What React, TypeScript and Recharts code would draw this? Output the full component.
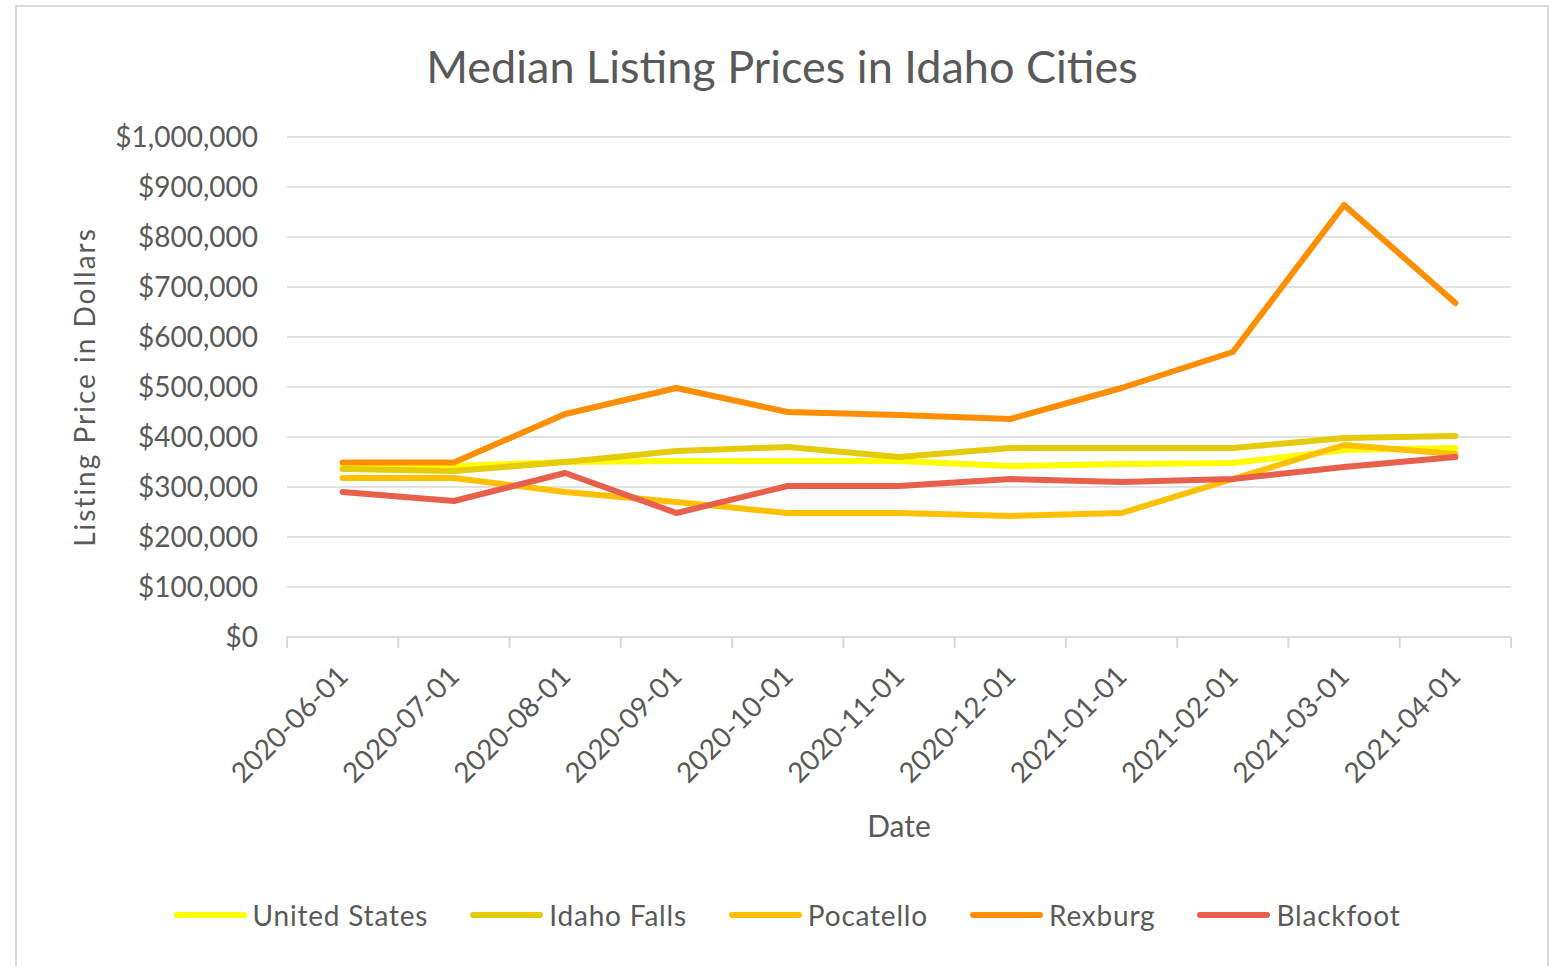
import React from "react";
import {
  CartesianGrid,
  Label,
  Legend,
  Line,
  LineChart,
  XAxis,
  YAxis,
} from "recharts";

const dates = [
  "2020-06-01",
  "2020-07-01",
  "2020-08-01",
  "2020-09-01",
  "2020-10-01",
  "2020-11-01",
  "2020-12-01",
  "2021-01-01",
  "2021-02-01",
  "2021-03-01",
  "2021-04-01",
];

const unitedStates = [340000, 342000, 350000, 352000, 352000, 352000, 342000, 346000, 348000, 374000, 378000];
const idahoFalls = [336000, 332000, 350000, 372000, 380000, 360000, 378000, 378000, 378000, 398000, 402000];
const pocatello = [318000, 318000, 290000, 270000, 248000, 248000, 242000, 248000, 316000, 384000, 366000];
const rexburg = [349000, 349000, 446000, 498000, 450000, 444000, 436000, 498000, 570000, 864000, 668000];
const blackfoot = [290000, 272000, 328000, 248000, 302000, 302000, 316000, 310000, 316000, 340000, 360000];

const yTicks = [0, 100000, 200000, 300000, 400000, 500000, 600000, 700000, 800000, 900000, 1000000];

const series = [
  { key: "United States", values: unitedStates, color: "#FFFF00" },
  { key: "Idaho Falls", values: idahoFalls, color: "#E6CB0A" },
  { key: "Pocatello", values: pocatello, color: "#FFC000" },
  { key: "Rexburg", values: rexburg, color: "#FF8F00" },
  { key: "Blackfoot", values: blackfoot, color: "#E8604C" },
];

const data = dates.map((date, i) => {
  const row: Record<string, any> = { date };
  series.forEach((s) => {
    row[s.key] = s.values[i];
  });
  return row;
});

const FONT = "Lato, 'Open Sans', sans-serif";
const TEXT = "#595959";
const GRID = "#d9d9d9";
const CHART_W = 1530;
const CHART_H = 958;
const MARGIN = { top: 130, right: 36, bottom: 78, left: 0 };
const Y_AXIS_W = 270;
const PLOT_W = CHART_W - MARGIN.left - MARGIN.right - Y_AXIS_W;

function formatDollars(v: number) {
  return "$" + v.toLocaleString("en-US");
}

function DateTick(props: any) {
  const { x, y, payload, index } = props;
  const bw = PLOT_W / dates.length;
  const ax = x + 7;
  const ay = y + 41;
  return (
    <g>
      <line x1={x - bw / 2} y1={y} x2={x - bw / 2} y2={y + 11} stroke={GRID} strokeWidth={2} />
      {index === dates.length - 1 && (
        <line x1={x + bw / 2} y1={y} x2={x + bw / 2} y2={y + 11} stroke={GRID} strokeWidth={2} />
      )}
      <text
        x={ax}
        y={ay}
        textAnchor="end"
        transform={`rotate(-45 ${ax} ${ay})`}
        fill={TEXT}
        fontSize={28}
        fontFamily={FONT}
      >
        {payload.value}
      </text>
    </g>
  );
}

function LegendContent() {
  return (
    <div
      style={{
        display: "flex",
        justifyContent: "center",
        alignItems: "center",
        gap: 42,
        height: 40,
        paddingLeft: 10,
        fontFamily: FONT,
        fontSize: 28,
        letterSpacing: 0.8,
        color: TEXT,
      }}
    >
      {series.map((s) => (
        <div key={s.key} style={{ display: "flex", alignItems: "center" }}>
          <span
            style={{
              display: "inline-block",
              width: 73,
              height: 6,
              borderRadius: 3,
              background: s.color,
              marginRight: 6,
            }}
          />
          <span>{s.key}</span>
        </div>
      ))}
    </div>
  );
}

export default function App() {
  return (
    <div
      style={{
        position: "absolute",
        left: 15,
        top: 5,
        width: CHART_W,
        height: 980,
        border: `2px solid ${GRID}`,
        background: "#fff",
        fontFamily: FONT,
      }}
    >
      <div
        style={{
          position: "absolute",
          left: 0,
          width: CHART_W,
          top: 32,
          textAlign: "center",
          fontSize: 45,
          color: TEXT,
          lineHeight: "54px",
        }}
      >
        Median Listing Prices in Idaho Cities
      </div>
      <LineChart width={CHART_W} height={CHART_H} data={data} margin={MARGIN}>
        <CartesianGrid horizontal vertical={false} stroke={GRID} strokeWidth={1.5} />
        <XAxis
          dataKey="date"
          scale="band"
          height={210}
          axisLine={{ stroke: GRID, strokeWidth: 2 }}
          tickLine={false}
          tickSize={0}
          tickMargin={0}
          interval={0}
          tick={<DateTick />}
        >
          <Label
            content={(p: any) => {
              const vb = p.viewBox || {};
              return (
                <text
                  x={vb.x + vb.width / 2}
                  y={vb.y + 188}
                  textAnchor="middle"
                  dominantBaseline="central"
                  fill={TEXT}
                  fontSize={30}
                  fontFamily={FONT}
                >
                  Date
                </text>
              );
            }}
          />
        </XAxis>
        <YAxis
          width={Y_AXIS_W}
          domain={[0, 1000000]}
          ticks={yTicks}
          axisLine={false}
          tickLine={false}
          tickSize={0}
          tickMargin={29}
          tickFormatter={formatDollars}
          tick={{ fill: TEXT, fontSize: 28, fontFamily: FONT }}
        >
          <Label
            content={(p: any) => {
              const vb = p.viewBox || {};
              const cx = vb.x + 67;
              const cy = vb.y + vb.height / 2;
              return (
                <text
                  x={cx}
                  y={cy}
                  textAnchor="middle"
                  dominantBaseline="central"
                  transform={`rotate(-90 ${cx} ${cy})`}
                  fill={TEXT}
                  fontSize={28}
                  letterSpacing={2}
                  fontFamily={FONT}
                >
                  Listing Price in Dollars
                </text>
              );
            }}
          />
        </YAxis>
        <Legend
          verticalAlign="bottom"
          content={<LegendContent />}
          wrapperStyle={{ top: 888, bottom: "auto", left: 0, width: CHART_W, height: 40 }}
        />
        {series.map((s) => (
          <Line
            key={s.key}
            type="linear"
            dataKey={s.key}
            stroke={s.color}
            strokeWidth={6}
            strokeLinecap="round"
            strokeLinejoin="round"
            dot={false}
            activeDot={false}
            isAnimationActive={false}
          />
        ))}
      </LineChart>
    </div>
  );
}
